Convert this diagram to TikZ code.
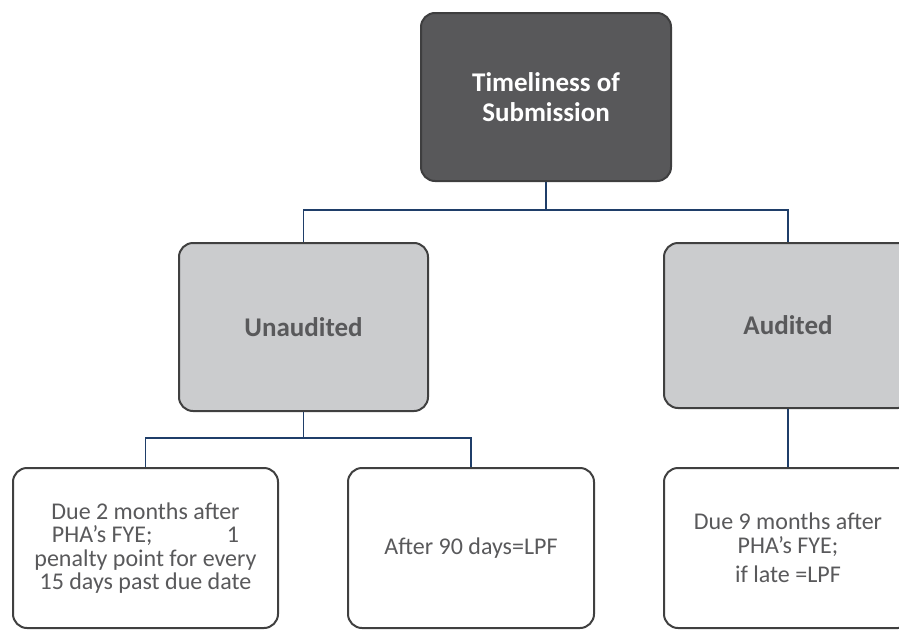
\documentclass[tikz,border=0pt]{standalone}
\usepackage{fontspec}
\setmainfont{Carlito}
\definecolor{navy}{RGB}{31,62,105}
\definecolor{darkfill}{RGB}{88,88,90}
\definecolor{midfill}{RGB}{203,204,206}
\definecolor{edge}{RGB}{64,64,64}
\definecolor{txtgray}{RGB}{89,89,91}
\tikzset{
  box/.style={rectangle, rounded corners=14pt, draw=edge, line width=2pt,
    inner sep=0pt, align=center, anchor=north west},
  topbox/.style={box, fill=darkfill, draw=darkfill!70!black, text=white,
    font=\fontsize{27}{30}\selectfont\bfseries},
  midbox/.style={box, fill=midfill, text=txtgray,
    font=\fontsize{27}{30}\selectfont\bfseries},
  leafbox/.style={box, fill=white, text=txtgray,
    font=\fontsize{24}{23.5}\selectfont},
  link/.style={draw=navy, line width=1.6pt}
}
\begin{document}
\begin{tikzpicture}[x=1pt,y=-1pt]
\useasboundingbox (0,0) rectangle (899,629);
\clip (0,0) rectangle (899,629);

% level 0
\node[topbox, minimum width=250pt, minimum height=168pt] (top) at (420,12)
  {Timeliness of\\Submission};

% level 1
\node[midbox, minimum width=249pt, minimum height=168pt] (unaud) at (178,242)
  {Unaudited};
\node[midbox, minimum width=248pt, minimum height=165pt] (aud) at (663,242)
  {Audited};

% level 2
\node[leafbox, minimum width=265pt, minimum height=160pt] (leafA) at (12,467)
  {Due 2 months after\\PHA’s FYE;\hspace{3.1em}1\\penalty point for every\\15 days past due date};
\node[leafbox, minimum width=246pt, minimum height=160pt] (leafB) at (347,467)
  {After 90 days=LPF};
\node[leafbox, minimum width=248pt, minimum height=160pt] (leafC) at (663,467)
  {Due 9 months after\\PHA’s FYE;\\[6pt]if late =LPF};

% connectors: vertical drops to horizontal buses
\draw[link] (top.south) -- ++(0,28) coordinate (busTop);
\draw[link] (unaud.north) |- (busTop) -| (aud.north);
\draw[link] (unaud.south) -- ++(0,26) coordinate (busUnaud);
\draw[link] (leafA.north) |- (busUnaud) -| (leafB.north);
\draw[link] (aud.south) -- (leafC.north);
\end{tikzpicture}
\end{document}
